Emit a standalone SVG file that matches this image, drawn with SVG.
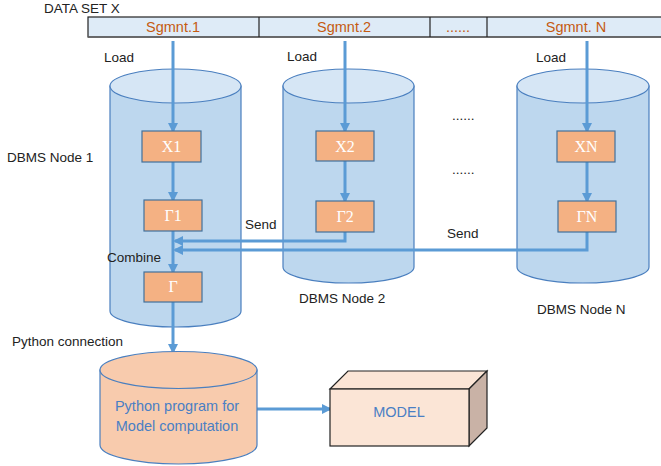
<svg xmlns="http://www.w3.org/2000/svg" width="661" height="466" viewBox="0 0 661 466">
<style>
.lbl{font-family:"Liberation Sans","Open Sans",sans-serif;font-size:13.5px;fill:#222}
.seg{font-family:"Liberation Sans",sans-serif;font-size:14.5px;fill:#c55a11;text-anchor:middle}
.box{fill:#f4b183;stroke:#41719c;stroke-width:1.2}
.bt{font-family:"Liberation Serif",serif;font-size:16px;fill:#fff;text-anchor:middle}
.cyl{fill:#bdd7ee;stroke:#4a7fbf;stroke-width:1.2}
.cyltop{fill:#d6e6f5;stroke:#4a7fbf;stroke-width:1.2}
.ln{fill:none;stroke:#5b9bd5;stroke-width:3}
.pt{font-family:"Liberation Sans",sans-serif;font-size:14.5px;fill:#4a7fc4;text-anchor:middle}
</style>
<defs>
<marker id="ah" markerWidth="10" markerHeight="10" refX="8" refY="5" orient="auto" markerUnits="userSpaceOnUse" viewBox="0 0 10 10">
<path d="M0,0 L10,5 L0,10 z" fill="#5b9bd5"/>
</marker>
</defs>

<g id="dataset">
<text class="lbl" x="44" y="13">DATA SET X</text>
<rect x="88" y="17" width="580" height="20" fill="#deebf7" stroke="#222" stroke-width="1.2"/>
<line x1="88" y1="37" x2="661" y2="37" stroke="#666" stroke-width="1.5"/>
<line x1="259" y1="17" x2="259" y2="37" stroke="#222" stroke-width="1.2"/>
<line x1="430" y1="17" x2="430" y2="37" stroke="#222" stroke-width="1.2"/>
<line x1="487" y1="17" x2="487" y2="37" stroke="#222" stroke-width="1.2"/>
<text class="seg" x="173" y="32">Sgmnt.1</text>
<text class="seg" x="344" y="32">Sgmnt.2</text>
<text class="seg" x="458" y="32">......</text>
<text class="seg" x="576" y="32">Sgmnt. N</text>
</g>

<g id="node1">
<path class="cyl" d="M110,86 L110,311 A65.5,16 0 0 0 241,311 L241,86 z"/>
<ellipse class="cyltop" cx="175.5" cy="86" rx="65.5" ry="17"/>
</g>
<g id="node2">
<path class="cyl" d="M283,86 L283,267 A65.5,16 0 0 0 414,267 L414,86 z"/>
<ellipse class="cyltop" cx="348.5" cy="86" rx="65.5" ry="17"/>
</g>
<g id="nodeN">
<path class="cyl" d="M517,86 L517,267 A66,16 0 0 0 649,267 L649,86 z"/>
<ellipse class="cyltop" cx="583" cy="86" rx="66" ry="17"/>
</g>

<g id="connectors">
<line class="ln" x1="173" y1="41" x2="173" y2="131" marker-end="url(#ah)"/>
<line class="ln" x1="173" y1="162" x2="173" y2="200" marker-end="url(#ah)"/>
<line class="ln" x1="173" y1="231" x2="173" y2="272" marker-end="url(#ah)"/>
<line class="ln" x1="345" y1="41" x2="345" y2="131" marker-end="url(#ah)"/>
<line class="ln" x1="345" y1="161" x2="345" y2="201" marker-end="url(#ah)"/>
<line class="ln" x1="587" y1="41" x2="587" y2="131" marker-end="url(#ah)"/>
<line class="ln" x1="587" y1="162" x2="587" y2="201" marker-end="url(#ah)"/>
<polyline class="ln" points="345,232 345,241 175,241" marker-end="url(#ah)"/>
<polyline class="ln" points="587,232 587,250 175,250" marker-end="url(#ah)"/>
<line class="ln" x1="173" y1="302" x2="173" y2="352" marker-end="url(#ah)"/>
<line class="ln" x1="257" y1="409" x2="330" y2="409" marker-end="url(#ah)"/>
</g>

<g id="X1"><rect class="box" x="142" y="131" width="59" height="31"/><text class="bt" x="171.5" y="152">X1</text></g>
<g id="G1"><rect class="box" x="144" y="200" width="58" height="31"/><text class="bt" x="173" y="221">Γ1</text></g>
<g id="G"><rect class="box" x="144" y="272" width="58" height="30"/><text class="bt" x="173" y="292">Γ</text></g>
<g id="X2"><rect class="box" x="316" y="131" width="58" height="30"/><text class="bt" x="345" y="152">X2</text></g>
<g id="G2"><rect class="box" x="316" y="201" width="58" height="31"/><text class="bt" x="345" y="222">Γ2</text></g>
<g id="XN"><rect class="box" x="557" y="131" width="58" height="31"/><text class="bt" x="586" y="152">XN</text></g>
<g id="GN"><rect class="box" x="558" y="201" width="58" height="31"/><text class="bt" x="587" y="222">ΓN</text></g>

<g id="python">
<path d="M100,370 L100,445 A78.5,19 0 0 0 257,445 L257,370 z" fill="#f8cbad" stroke="#4a7fbf" stroke-width="1.2"/>
<ellipse cx="178.5" cy="370" rx="78.5" ry="18.5" fill="#f8cbad" stroke="#4a7fbf" stroke-width="1.2"/>
<text class="pt" x="177" y="411">Python program for</text>
<text class="pt" x="177" y="431">Model computation</text>
</g>

<g id="model">
<polygon points="330,389 348,371 487,371 469,389" fill="#fbe5d6" stroke="#222" stroke-width="1.2"/>
<polygon points="469,389 487,371 487,428 469,446" fill="#c9b2a6" stroke="#222" stroke-width="1.2"/>
<rect x="330" y="389" width="139" height="57" fill="#fbe5d6" stroke="#222" stroke-width="1.2"/>
<text class="pt" x="399" y="417">MODEL</text>
</g>

<g id="labels">
<text class="lbl" x="104" y="62">Load</text>
<text class="lbl" x="287" y="61">Load</text>
<text class="lbl" x="536" y="62">Load</text>
<text class="lbl" x="7" y="162">DBMS Node 1</text>
<text class="lbl" x="245" y="229">Send</text>
<text class="lbl" x="447" y="238">Send</text>
<text class="lbl" x="107" y="262">Combine</text>
<text class="lbl" x="299" y="303">DBMS Node 2</text>
<text class="lbl" x="537" y="314">DBMS Node N</text>
<text class="lbl" x="12" y="346">Python connection</text>
<text class="lbl" x="452" y="120">......</text>
<text class="lbl" x="452" y="174">......</text>
</g>
</svg>
